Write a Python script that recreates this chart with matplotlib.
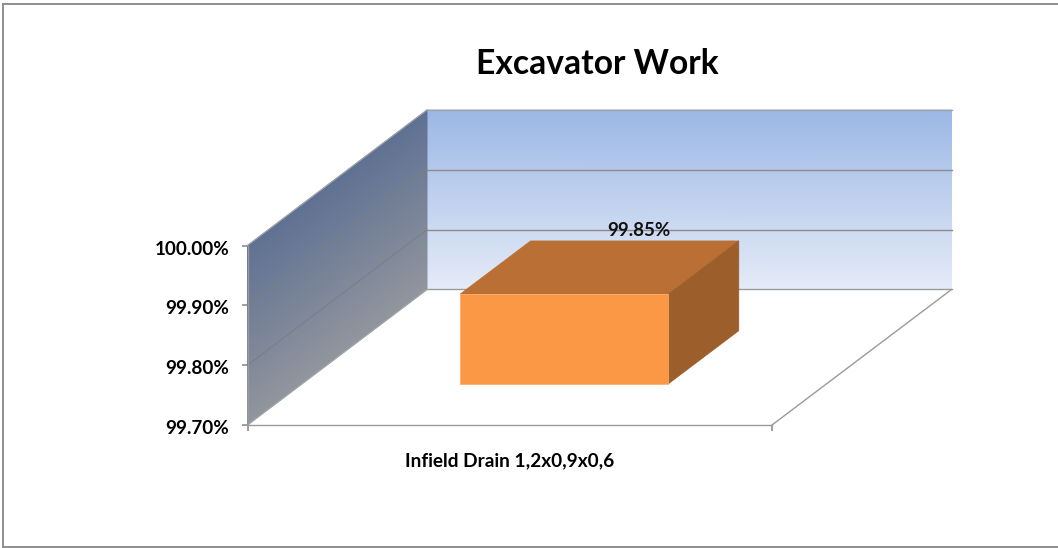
import numpy as np
import matplotlib
matplotlib.use("Agg")
import matplotlib.pyplot as plt
from matplotlib.colors import LinearSegmentedColormap
from matplotlib.lines import Line2D
from matplotlib.patches import Polygon
from matplotlib.transforms import ScaledTranslation

# data
categories = ["Infield Drain 1,2x0,9x0,6"]
values = [99.85]
y_ticks = [99.70, 99.80, 99.90, 100.00]

W, H = 1058, 548
plt.rcParams["font.family"] = ["Lato", "DejaVu Sans"]
plt.rcParams["font.weight"] = "bold"

fig = plt.figure(figsize=(W / 100, H / 100), dpi=100)
ax = fig.add_axes([247.5 / W, 1 - 425 / H, 524.5 / W, 179.5 / H])

ymin, ymax = y_ticks[0], y_ticks[-1]
ax.set_xlim(0, 1)
ax.set_ylim(ymin, ymax)

# depth axis projected onto the plot plane
depth_x = 179.5 / 524.5
depth_y = 135.5 / 179.5 * (ymax - ymin)


def project(x, y, d):
    return x + d * depth_x, y + d * depth_y


def face(pts, **kw):
    xy = [project(*p) for p in pts]
    ax.add_patch(Polygon(xy, closed=True, clip_on=False, **kw))


def gradient_wall(x0, x1, d0, d1, colors, z):
    # two-row mesh, colour follows the value axis so it skews with the wall
    cmap = LinearSegmentedColormap.from_list("wall", colors)
    xx = np.array([[x0, x1], [x0, x1]], dtype=float)
    dd = np.array([[d0, d1], [d0, d1]], dtype=float)
    yy = np.array([[ymin, ymin], [ymax, ymax]], dtype=float)
    px, py = project(xx, yy, dd)
    m = ax.pcolormesh(px, py, np.array([[0, 0], [1, 1]]), cmap=cmap, vmin=0, vmax=1,
                      shading="gouraud", zorder=z)
    m.set_clip_on(False)


# walls
gradient_wall(0, 1, 1, 1, ["#E5EBF7", "#9BB7E5"], 1)
gradient_wall(0, 0, 0, 1, ["#92969E", "#5F7193"], 1)

for t in y_ticks:
    xs, ys = zip(project(0, t, 0), project(0, t, 1), project(1, t, 1))
    if t == ymin:
        # floor outline
        ax.plot(xs[1:], ys[1:], color="#9A9A9A", lw=1.0, clip_on=False, zorder=2)
        ax.plot(xs[:2], ys[:2], color="#A5A7AA", lw=0.8, clip_on=False, zorder=2)
        fx, fy = zip(project(1, t, 0), project(1, t, 1))
        ax.plot(fx, fy, color="#9A9A9A", lw=1.0, clip_on=False, zorder=2)
    elif t == ymax:
        ax.plot(xs[:2], ys[:2], color="#A5A7AA", lw=0.8, clip_on=False, zorder=2)
        ax.plot(xs[1:], ys[1:], color="#A0A4AC", lw=1.0, clip_on=False, zorder=2)
    else:
        ax.plot(xs[:2], ys[:2], color="#7A7D82", lw=0.7, clip_on=False, zorder=2)
        ax.plot(xs[1:], ys[1:], color="#8C8C8C", lw=1.0, clip_on=False, zorder=2)

# bars
bar_w = 0.397
d0, d1 = 0.304, 0.696
for i, (cat, val) in enumerate(zip(categories, values)):
    c = (i + 0.5) / len(categories)
    x0, x1 = c - bar_w / 2, c + bar_w / 2
    face([(x0, val, d0), (x1, val, d0), (x1, val, d1), (x0, val, d1)],
         fc="#BA7034", ec="#BA7034", lw=0.5, zorder=3)
    face([(x1, ymin, d0), (x1, ymin, d1), (x1, val, d1), (x1, val, d0)],
         fc="#9C5E2B", ec="#9C5E2B", lw=0.5, zorder=3)
    face([(x0, ymin, d0), (x1, ymin, d0), (x1, val, d0), (x0, val, d0)],
         fc="#FB9846", ec="#FCA968", lw=0.5, zorder=4)
    lx, ly = project(c, val, d1)
    ax.annotate(f"{val:.2f}%", (lx, ly), xytext=(3, 1.5), textcoords="offset points",
                ha="center", va="bottom", fontsize=13.5, fontweight="bold",
                color="#111111", zorder=5, annotation_clip=False)

# axes
for s in ["top", "right"]:
    ax.spines[s].set_visible(False)
for s in ["left", "bottom"]:
    ax.spines[s].set_color("#9A9A9A")
    ax.spines[s].set_linewidth(1.0)
ax.patch.set_visible(False)

ax.set_yticks(y_ticks, [f"{t:.2f}%" for t in y_ticks])
ax.tick_params(axis="y", length=4.3, width=1.2, color="#8C8C8C", pad=9, labelsize=13.6)
# labels sit a little under their ticks in the original
nudge = ScaledTranslation(0, -1.5 / 72, fig.dpi_scale_trans)
for lab in ax.get_yticklabels():
    lab.set_transform(lab.get_transform() + nudge)
ax.set_xticks([0, 1], ["", ""])
ax.tick_params(axis="x", length=4.3, width=1.2, color="#8C8C8C")
ax.set_xticks([(i + 0.5) / len(categories) for i in range(len(categories))], categories, minor=True)
ax.tick_params(axis="x", which="minor", length=0, pad=19.5, labelsize=13.7)

fig.text(597 / W, 1 - 64 / H, "Excavator Work", ha="center", va="center",
         fontsize=24.2, fontweight="bold", color="black")

# chart border (no right edge in the original)
border = "#8E8E8E"
for xs, ys in [([3, W], [4, 4]), ([3, 3], [4, 547]), ([3, W], [547, 547])]:
    fig.add_artist(Line2D([x / W for x in xs], [1 - y / H for y in ys], color=border, lw=1.4))

fig.savefig("out.png", dpi=100)
